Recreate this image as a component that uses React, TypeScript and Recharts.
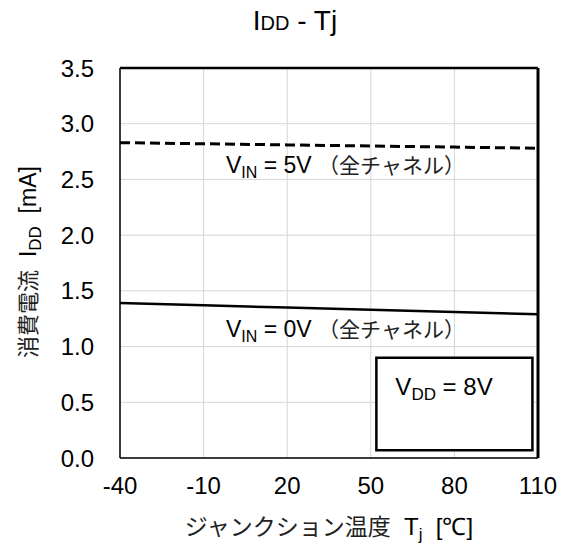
import { LineChart, Line, XAxis, YAxis, CartesianGrid, ReferenceLine, ReferenceArea } from 'recharts';

const temps = [-40, -10, 20, 50, 80, 110];
const iddVin5 = [2.83, 2.82, 2.81, 2.8, 2.79, 2.78];
const iddVin0 = [1.39, 1.37, 1.35, 1.33, 1.31, 1.29];
const xTicks = [-40, -10, 20, 50, 80, 110];
const yTicks = [0, 0.5, 1.0, 1.5, 2.0, 2.5, 3.0, 3.5];

const data = temps.map((t, i) => ({ t, vin5: iddVin5[i], vin0: iddVin0[i] }));

const SANS = '"Liberation Sans", Arial, sans-serif';
const CJK = '"Noto Sans CJK JP", sans-serif';
const SP = '\u00a0';

const VddLabel = (props: any) => {
    const vb = props.viewBox || { x: 0, y: 0 };
    return (
        <text x={vb.x + 19} y={vb.y + 37} fill="#000" fontSize={24} fontFamily={SANS}>
            <tspan>V</tspan>
            <tspan fontSize={17} dy={5}>DD</tspan>
            <tspan dy={-5}>{SP}= 8V</tspan>
        </text>
    );
};

const App = () => {
    return (
        <div style={{ position: 'fixed', left: 0, top: 0, background: '#fff' }}>
            <LineChart
                width={564}
                height={547}
                data={data}
                margin={{ top: 68, right: 26, bottom: 59, left: 0 }}
                style={{ fontFamily: SANS }}
            >
                <CartesianGrid stroke="#d6d6d6" strokeWidth={1} />
                <XAxis
                    dataKey="t"
                    type="number"
                    domain={[-40, 110]}
                    ticks={xTicks}
                    tickLine={false}
                    tickMargin={13}
                    height={30}
                    axisLine={{ stroke: '#000', strokeWidth: 1.5 }}
                    tick={{ fill: '#000', fontSize: 24 }}
                />
                <YAxis
                    type="number"
                    domain={[0, 3.5]}
                    ticks={yTicks}
                    width={120}
                    tickLine={false}
                    tickMargin={20}
                    tickFormatter={(v: number) => v.toFixed(1)}
                    axisLine={{ stroke: '#000', strokeWidth: 1.5 }}
                    tick={{ fill: '#000', fontSize: 24 }}
                />
                <ReferenceLine y={3.5} stroke="#000" strokeWidth={2.5} />
                <ReferenceLine x={110} stroke="#000" strokeWidth={3} />
                <ReferenceArea
                    x1={52}
                    x2={108}
                    y1={0.07}
                    y2={0.9}
                    fill="#fff"
                    fillOpacity={1}
                    stroke="#000"
                    strokeWidth={2.5}
                    label={<VddLabel />}
                />
                <Line
                    type="linear"
                    dataKey="vin5"
                    stroke="#000"
                    strokeWidth={3}
                    strokeDasharray="10 5"
                    dot={false}
                    isAnimationActive={false}
                />
                <Line
                    type="linear"
                    dataKey="vin0"
                    stroke="#000"
                    strokeWidth={2.5}
                    dot={false}
                    isAnimationActive={false}
                />

                {/* title */}
                <text x={295} y={30} textAnchor="middle" fill="#000" fontSize={28} fontFamily={SANS}>
                    <tspan>I</tspan>
                    <tspan fontSize={20}>DD</tspan>
                    <tspan>{SP}- T</tspan>
                    <tspan>j</tspan>
                </text>

                {/* curve annotations */}
                <text x={226} y={173} fill="#000" fontSize={23} fontFamily={SANS}>
                    <tspan>V</tspan>
                    <tspan fontSize={16} dy={5}>IN</tspan>
                    <tspan dy={-5}>{SP}= 5V{SP}</tspan>
                    <tspan fontFamily={CJK} fontSize={21} fill="#222">（全チャネル）</tspan>
                </text>
                <text x={226} y={337} fill="#000" fontSize={23} fontFamily={SANS}>
                    <tspan>V</tspan>
                    <tspan fontSize={16} dy={5}>IN</tspan>
                    <tspan dy={-5}>{SP}= 0V{SP}</tspan>
                    <tspan fontFamily={CJK} fontSize={21} fill="#222">（全チャネル）</tspan>
                </text>

                {/* axis titles */}
                <text x={329} y={535} textAnchor="middle" fill="#000" fontSize={24} fontFamily={SANS}>
                    <tspan fontFamily={CJK} fontSize={23} fill="#222">ジャンクション温度</tspan>
                    <tspan>{SP}{SP}T</tspan>
                    <tspan fontSize={17} dy={5}>j</tspan>
                    <tspan dy={-5}>{SP}{SP}[℃]</tspan>
                </text>
                <text
                    x={36}
                    y={262}
                    transform="rotate(-90 36 262)"
                    textAnchor="middle"
                    fill="#000"
                    fontSize={23}
                    fontFamily={SANS}
                >
                    <tspan fontFamily={CJK} fontSize={22} fill="#222">消費電流</tspan>
                    <tspan>{SP}{SP}I</tspan>
                    <tspan fontSize={17} dy={5}>DD</tspan>
                    <tspan dy={-5}>{SP}{SP}[mA]</tspan>
                </text>
            </LineChart>
        </div>
    );
};

export default App;
